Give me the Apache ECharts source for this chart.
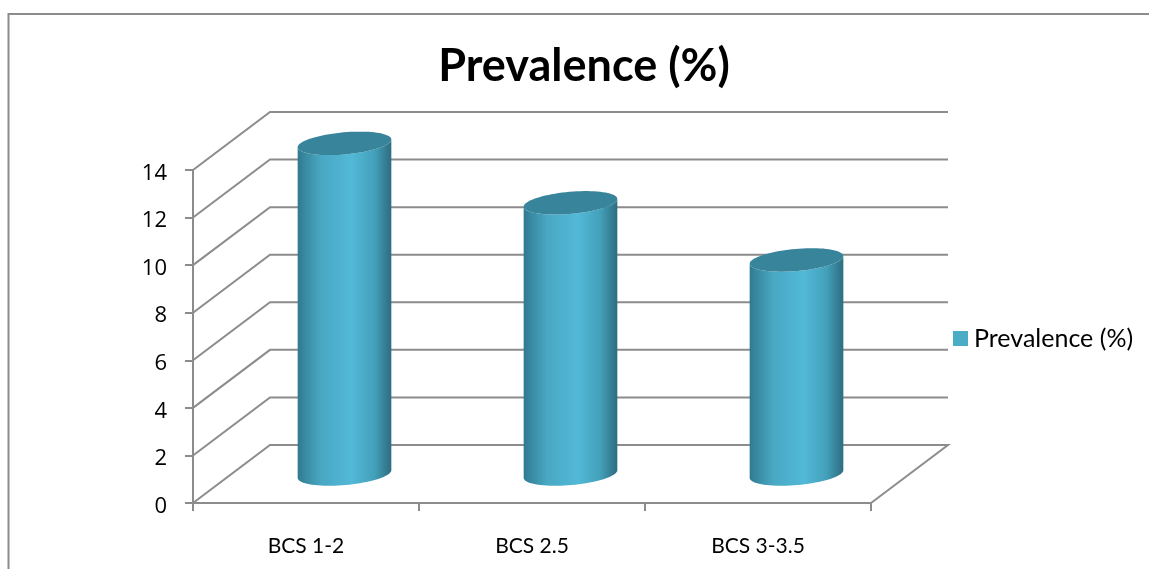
<!DOCTYPE html>
<html>
<head>
<meta charset="utf-8">
<style>html,body{margin:0;padding:0;background:#fff}#chart{width:1149px;height:569px}</style>
<script src="https://cdn.jsdelivr.net/npm/echarts@6/dist/echarts.min.js"></script>
</head>
<body>
<div id="chart"></div>
<script>
// Prevalence by body condition score, drawn as a pseudo-3D cylinder chart.
const categories = ['BCS 1-2', 'BCS 2.5', 'BCS 3-3.5'];
const prevalence = [13.9, 11.4, 9.0];
const yTicks = [0, 2, 4, 6, 8, 10, 12, 14];
const seriesName = 'Prevalence (%)';

const FONT = 'Lato, "Open Sans", sans-serif';
const DIGIT_FONT = '"Open Sans", sans-serif';
const GRID_COLOR = '#8c8c8c';
const DEPTH = [77, -58];          // offset from the front plane to the back wall
const BAR_RATIO = 0.416;          // cylinder diameter relative to a category band
const CAP_RATIO = 0.235;          // ellipse minor/major ratio
const CAP_TILT = 5 * Math.PI / 180;

// Sample a tilted ellipse arc as a list of points.
function arc(cx, cy, a, b, from, to, steps) {
  const pts = [];
  for (let i = 0; i <= steps; i++) {
    const t = from + (to - from) * i / steps;
    const ex = a * Math.cos(t), ey = b * Math.sin(t);
    pts.push([
      cx + ex * Math.cos(CAP_TILT) + ey * Math.sin(CAP_TILT),
      cy - ex * Math.sin(CAP_TILT) + ey * Math.cos(CAP_TILT)
    ]);
  }
  return pts;
}

// Back wall gridline: runs from the value axis, into depth, then across the wall.
function renderWallLine(params, api) {
  const band = api.size([1, 0])[0];
  const first = api.coord([0, api.value(0)]);
  const start = [first[0] - band / 2, first[1]];
  const width = band * categories.length;
  const back = [start[0] + DEPTH[0], start[1] + DEPTH[1]];
  const end = [back[0] + width, back[1]];
  const points = [start, back, end];
  if (api.value(0) === 0) {
    points.push([start[0] + width, start[1]]);
  }
  return {
    type: 'polyline',
    shape: { points },
    style: { stroke: GRID_COLOR, lineWidth: 2, fill: null }
  };
}

// Cylinder standing on the mid-depth of the floor.
function renderCylinder(params, api) {
  const idx = api.value(0);
  const base = api.coord([idx, 0]);
  const top = api.coord([idx, api.value(1)]);
  const a = api.size([1, 0])[0] * BAR_RATIO / 2;
  const b = a * CAP_RATIO;
  const cx = base[0] + DEPTH[0] / 2;
  const baseY = base[1] + DEPTH[1] / 2;
  const topY = top[1] + DEPTH[1] / 2;
  const body = arc(cx, baseY, a, b, 0, Math.PI, 40)
    .concat(arc(cx, topY, a, b, Math.PI, 0, 40));
  const side = new echarts.graphic.LinearGradient(0, 0, 1, 0, [
    { offset: 0, color: '#2f7a90' },
    { offset: 0.06, color: '#36869d' },
    { offset: 0.25, color: '#49a8c3' },
    { offset: 0.58, color: '#52b9d7' },
    { offset: 0.82, color: '#43a0ba' },
    { offset: 0.95, color: '#337a8f' },
    { offset: 1, color: '#2e6d80' }
  ]);
  return {
    type: 'group',
    children: [
      { type: 'polygon', shape: { points: body }, style: { fill: side } },
      {
        type: 'polygon',
        shape: { points: arc(cx, topY, a, b, 0, Math.PI * 2, 80) },
        style: { fill: '#38849b' }
      }
    ]
  };
}

const chart = echarts.init(document.getElementById('chart'), null, { renderer: 'canvas' });
chart.setOption({
  animation: false,
  backgroundColor: '#ffffff',
  title: {
    text: seriesName,
    left: 579,
    top: 39,
    textAlign: 'center',
    textStyle: { fontFamily: FONT, fontWeight: 'bold', fontSize: 45, color: '#000' }
  },
  legend: {
    data: [seriesName],
    left: 948,
    top: 321,
    icon: 'rect',
    itemWidth: 15,
    itemHeight: 15,
    itemGap: 6,
    textStyle: { fontFamily: FONT, fontSize: 25, color: '#000', padding: [0, 0, 0, 1] }
  },
  grid: { left: 193, top: 170, width: 678, height: 333 },
  xAxis: {
    type: 'category',
    data: categories,
    boundaryGap: true,
    axisLine: { lineStyle: { color: GRID_COLOR, width: 2 } },
    axisTick: { show: true, alignWithLabel: false, length: 8, lineStyle: { color: GRID_COLOR, width: 2 } },
    axisLabel: { fontFamily: FONT, fontSize: 21, color: '#000', margin: 33 },
    splitLine: { show: false }
  },
  yAxis: {
    type: 'value',
    min: 0,
    max: 14,
    interval: 2,
    axisLine: { show: true, lineStyle: { color: GRID_COLOR, width: 2 } },
    axisTick: { show: true, length: 8, lineStyle: { color: GRID_COLOR, width: 2 } },
    axisLabel: {
      margin: 26,
      formatter: '{d|{value}}',
      rich: {
        d: { fontFamily: DIGIT_FONT, fontSize: 22, color: '#000', padding: [7, 0, 0, 0] }
      }
    },
    splitLine: { show: false }
  },
  series: [
    {
      type: 'custom',
      name: 'wall',
      renderItem: renderWallLine,
      data: yTicks.map(v => [v]),
      encode: { y: 0 },
      silent: true,
      clip: false,
      z: 1
    },
    {
      type: 'custom',
      name: seriesName,
      renderItem: renderCylinder,
      data: prevalence.map((v, i) => [i, v]),
      encode: { x: 0, y: 1 },
      itemStyle: { color: '#4bacc6' },
      clip: false,
      z: 3
    }
  ],
  graphic: [
    {
      // Chart-area frame: only its top and left edges fall inside the page.
      type: 'polyline',
      shape: { points: [[8.5, 569], [8.5, 14], [1149, 14]] },
      style: { stroke: GRID_COLOR, lineWidth: 2, fill: null },
      silent: true
    }
  ]
});
</script>
</body>
</html>
